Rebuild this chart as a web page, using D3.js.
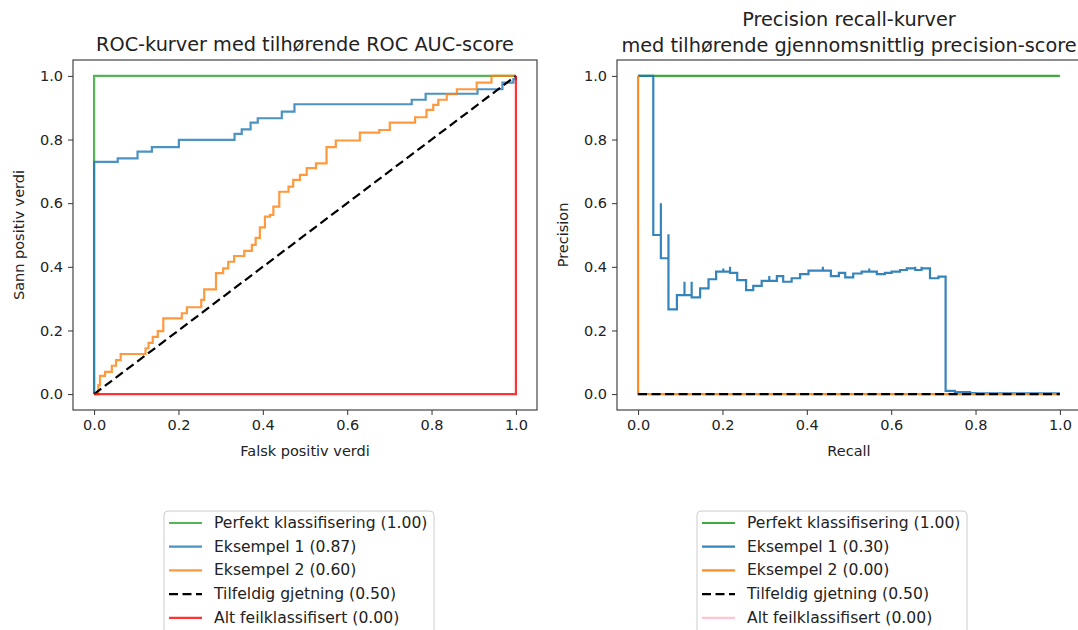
<!DOCTYPE html>
<html>
<head>
<meta charset="utf-8">
<script src="https://cdn.jsdelivr.net/npm/d3@7"></script>
<style>
    body { margin: 0; background: #fff; }
    text { font-family: "DejaVu Sans", sans-serif; fill: #222; }
</style>
</head>
<body>
<svg width="1078" height="630"></svg>
<script>
// ticks
var ticks = [0, 0.2, 0.4, 0.6, 0.8, 1.0];

// ROC-kurver (falsk positiv, sann positiv)
var rocPerfektX = [0, 0, 1];
var rocPerfektY = [0, 1, 1];
var rocEks1X = [0, 0, 0.056, 0.103, 0.137, 0.201, 0.333, 0.350, 0.371, 0.388, 0.445, 0.475, 0.753, 0.786, 0.909, 0.968, 0.994, 1];
var rocEks1Y = [0, 0.73, 0.741, 0.762, 0.776, 0.799, 0.818, 0.832, 0.853, 0.867, 0.888, 0.911, 0.925, 0.944, 0.958, 0.979, 0.99, 1];
var rocEks2X = [0, 0.010, 0.014, 0.026, 0.042, 0.052, 0.063, 0.122, 0.129, 0.139, 0.151, 0.164, 0.208, 0.220, 0.254, 0.261, 0.289, 0.306, 0.318, 0.332, 0.356, 0.374, 0.383, 0.393, 0.405, 0.417, 0.425, 0.439, 0.461, 0.472, 0.488, 0.504, 0.526, 0.551, 0.573, 0.630, 0.676, 0.701, 0.761, 0.788, 0.804, 0.816, 0.836, 0.860, 0.907, 0.942, 1];
var rocEks2Y = [0, 0.028, 0.057, 0.070, 0.089, 0.107, 0.126, 0.144, 0.161, 0.180, 0.198, 0.238, 0.254, 0.273, 0.296, 0.329, 0.380, 0.395, 0.416, 0.434, 0.450, 0.469, 0.491, 0.524, 0.558, 0.563, 0.589, 0.636, 0.652, 0.673, 0.689, 0.710, 0.725, 0.776, 0.797, 0.822, 0.830, 0.853, 0.870, 0.893, 0.909, 0.925, 0.943, 0.958, 0.979, 1.0, 1];
var rocTilfeldigX = [0, 1];
var rocTilfeldigY = [0, 1];
var rocFeilX = [0, 1, 1];
var rocFeilY = [0, 0, 1];
var rocLabels = ["Perfekt klassifisering (1.00)", "Eksempel 1 (0.87)", "Eksempel 2 (0.60)", "Tilfeldig gjetning (0.50)", "Alt feilklassifisert (0.00)"];

// Precision recall-kurver (recall, precision)
var prPerfektX = [0, 1];
var prPerfektY = [1, 1];
var prEks1X = [0, 0.036, 0.054, 0.054, 0.072, 0.072, 0.092, 0.110, 0.110, 0.127, 0.127, 0.147, 0.167, 0.185, 0.202, 0.202, 0.218, 0.218, 0.235, 0.256, 0.273, 0.293, 0.311, 0.311, 0.329, 0.344, 0.364, 0.384, 0.404, 0.419, 0.438, 0.438, 0.457, 0.476, 0.491, 0.510, 0.530, 0.548, 0.548, 0.566, 0.585, 0.601, 0.621, 0.637, 0.657, 0.657, 0.672, 0.672, 0.692, 0.712, 0.729, 0.751, 0.787, 0.80, 1];
var prEks1Y = [1, 0.5, 0.6, 0.427, 0.502, 0.266, 0.311, 0.353, 0.311, 0.353, 0.304, 0.332, 0.361, 0.385, 0.395, 0.385, 0.400, 0.381, 0.358, 0.327, 0.340, 0.356, 0.371, 0.356, 0.371, 0.353, 0.364, 0.377, 0.388, 0.388, 0.400, 0.388, 0.371, 0.381, 0.367, 0.379, 0.385, 0.395, 0.385, 0.377, 0.381, 0.385, 0.390, 0.395, 0.400, 0.390, 0.400, 0.395, 0.364, 0.369, 0.010, 0.006, 0.003, 0.002, 0.002];
var prEks2X = [0, 0, 1];
var prEks2Y = [1, 0, 0];
var prTilfeldigX = [0, 1];
var prTilfeldigY = [0, 0];
var prLabels = ["Perfekt klassifisering (1.00)", "Eksempel 1 (0.30)", "Eksempel 2 (0.00)", "Tilfeldig gjetning (0.50)", "Alt feilklassifisert (0.00)"];

var colors = ["#2ca02c", "#1f77b4", "#ff7f0e", "#000000", "#ff0000"];
var prColors = ["#2ca02c", "#1f77b4", "#ff7f0e", "#000000", "pink"];

function zip(xs, ys) {
    return xs.map(function(x, i) { return [x, ys[i]]; });
}

var svg = d3.select("svg");

function drawPanel(opt) {
    var x = d3.scaleLinear().domain([-0.05, 1.05]).range([opt.left, opt.left + 464]);
    var y = d3.scaleLinear().domain([-0.05, 1.05]).range([410, 60]);
    var g = svg.append("g");

    // frame
    g.append("rect")
        .attr("x", x(-0.05)).attr("y", y(1.05))
        .attr("width", 464).attr("height", 350)
        .attr("fill", "none").attr("stroke", "#333").attr("stroke-width", 1.1);

    var xAxis = d3.axisBottom(x).tickValues(ticks).tickFormat(d3.format(".1f")).tickSize(5).tickPadding(5);
    var yAxis = d3.axisLeft(y).tickValues(ticks).tickFormat(d3.format(".1f")).tickSize(5).tickPadding(5);
    var gx = g.append("g").attr("transform", "translate(0,410)").call(xAxis);
    var gy = g.append("g").attr("transform", "translate(" + x(-0.05) + ",0)").call(yAxis);
    [gx, gy].forEach(function(a) {
        a.select(".domain").remove();
        a.selectAll("line").attr("stroke", "#333");
        a.selectAll("text").attr("font-size", 14.5).attr("fill", "#222")
            .attr("font-family", "DejaVu Sans");
    });

    opt.series.forEach(function(s, i) {
        var line = d3.line()
            .x(function(d) { return x(d[0]); })
            .y(function(d) { return y(d[1]); })
            .curve(s.step ? d3.curveStepAfter : d3.curveLinear);
        g.append("path")
            .attr("d", line(s.data))
            .attr("fill", "none")
            .attr("stroke", s.color)
            .attr("stroke-opacity", s.color == "#000000" ? 1 : opt.alpha)
            .attr("stroke-width", 2.2)
            .attr("stroke-dasharray", s.dash ? "9,4.5" : null);
    });

    // titles and labels
    opt.title.forEach(function(t, i) {
        g.append("text")
            .attr("x", (x(-0.05) + x(1.05)) / 2)
            .attr("y", opt.titleY[i])
            .attr("text-anchor", "middle")
            .attr("font-size", 19.3)
            .text(t);
    });
    g.append("text")
        .attr("x", (x(-0.05) + x(1.05)) / 2).attr("y", 456)
        .attr("text-anchor", "middle").attr("font-size", 14.5)
        .text(opt.xlabel);
    g.append("text")
        .attr("transform", "translate(" + opt.ylabelX + ",235) rotate(-90)")
        .attr("text-anchor", "middle").attr("font-size", 14.5)
        .text(opt.ylabel);

    // legend
    var lg = g.append("g").attr("transform", "translate(" + opt.legendX + ",511)");
    lg.append("rect")
        .attr("width", 270).attr("height", 140).attr("rx", 4)
        .attr("fill", "#fff").attr("stroke", "#ccc");
    opt.labels.forEach(function(lab, i) {
        var yy = 12 + i * 23.7;
        lg.append("line")
            .attr("x1", 5).attr("x2", 38).attr("y1", yy).attr("y2", yy)
            .attr("stroke", opt.legendColors[i])
            .attr("stroke-opacity", i == 3 ? 1 : opt.alpha)
            .attr("stroke-width", 2.2)
            .attr("stroke-dasharray", i == 3 ? "9,4.5" : null);
        lg.append("text")
            .attr("x", 50).attr("y", yy + 5)
            .attr("font-size", 15.6)
            .text(lab);
    });
}

drawPanel({
    left: 73,
    alpha: 0.8,
    title: ["ROC-kurver med tilhørende ROC AUC-score"],
    titleY: [51],
    xlabel: "Falsk positiv verdi",
    ylabel: "Sann positiv verdi",
    ylabelX: 24,
    legendX: 164,
    labels: rocLabels,
    legendColors: colors,
    series: [
        { data: zip(rocPerfektX, rocPerfektY), color: colors[0], step: true },
        { data: zip(rocEks1X, rocEks1Y), color: colors[1], step: true },
        { data: zip(rocEks2X, rocEks2Y), color: colors[2], step: true },
        { data: zip(rocTilfeldigX, rocTilfeldigY), color: colors[3], dash: true },
        { data: zip(rocFeilX, rocFeilY), color: colors[4], step: true }
    ]
});

drawPanel({
    left: 617,
    alpha: 0.9,
    title: ["Precision recall-kurver", "med tilhørende gjennomsnittlig precision-score"],
    titleY: [26, 52],
    xlabel: "Recall",
    ylabel: "Precision",
    ylabelX: 568,
    legendX: 697,
    labels: prLabels,
    legendColors: prColors,
    series: [
        { data: zip(prPerfektX, prPerfektY), color: prColors[0] },
        { data: zip(prEks1X, prEks1Y), color: prColors[1], step: true },
        { data: zip(prEks2X, prEks2Y), color: prColors[2] },
        { data: zip(prTilfeldigX, prTilfeldigY), color: prColors[3], dash: true }
    ]
});
</script>
</body>
</html>
